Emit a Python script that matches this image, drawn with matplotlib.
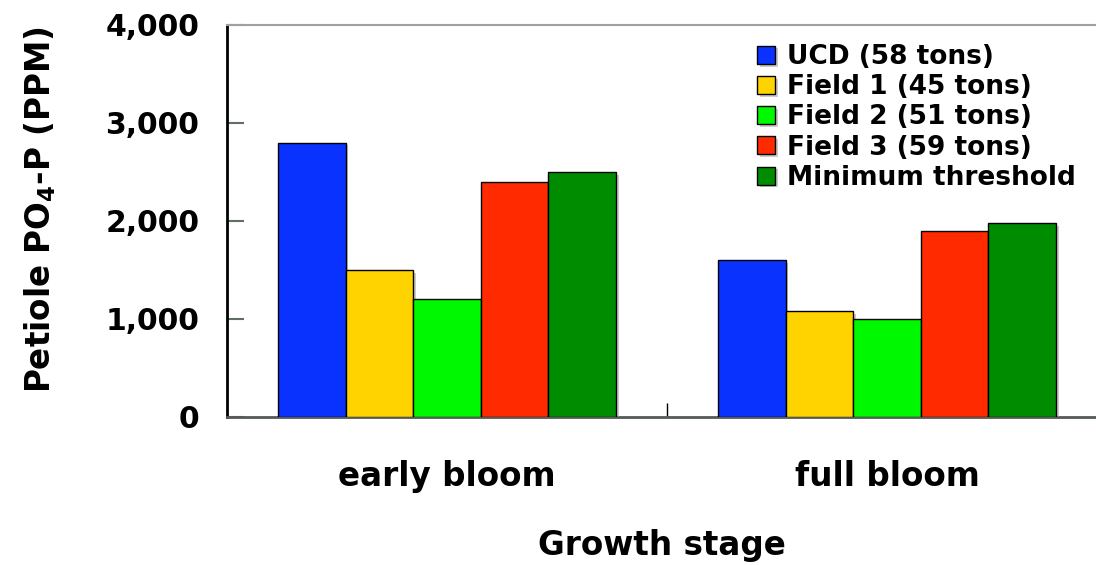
import numpy as np
import matplotlib.pyplot as plt
import matplotlib.patheffects as pe

plt.rcParams['font.family'] = 'DejaVu Sans'
plt.rcParams['font.weight'] = 'bold'
plt.rcParams['mathtext.fontset'] = 'dejavusans'

# Petiole phosphate by growth stage
stages = ['early bloom', 'full bloom']
series = ['UCD (58 tons)', 'Field 1 (45 tons)', 'Field 2 (51 tons)',
          'Field 3 (59 tons)', 'Minimum threshold']
ucd = [2800, 1600]
field1 = [1500, 1080]
field2 = [1200, 1000]
field3 = [2400, 1900]
threshold = [2500, 1980]
yticks = [0, 1000, 2000, 3000, 4000]
ytick_labels = ['0', '1,000', '2,000', '3,000', '4,000']

colors = ['#0a32ff', '#ffd300', '#00f800', '#ff2a00', '#008c00']

fig = plt.figure(figsize=(10.96, 5.65), dpi=100)
ax = fig.add_axes([227 / 1096, 1 - 417 / 565, 869 / 1096, 392 / 565])

x = np.arange(len(stages))
w = 0.1536
shadow = [pe.SimplePatchShadow(offset=(2, -2), shadow_rgbFace='#999999', alpha=0.5), pe.Normal()]
for i, (vals, name) in enumerate(zip([ucd, field1, field2, field3, threshold], series)):
    bars = ax.bar(x + (i - 2) * w, vals, w, color=colors[i], edgecolor='black',
                  linewidth=1.0, label=name, zorder=3)
    for b in bars:
        b.set_path_effects(shadow)

ax.set_xlim(-0.5, 1.475)
ax.set_ylim(0, 4000)
ax.set_yticks(yticks)
ax.set_yticklabels(ytick_labels)
ax.set_xticks(x)
ax.set_xticklabels(stages)
ax.set_xticks([0.5], minor=True)

ax.tick_params(axis='y', direction='in', length=12, width=1.5, color='#607060',
               labelsize=21.5, pad=20)
ax.tick_params(axis='x', which='major', length=0, labelsize=23.5, pad=31)
ax.tick_params(axis='x', which='minor', direction='in', length=10, width=1, color='black')

for lab in ax.get_xticklabels() + ax.get_yticklabels():
    lab.set_fontweight('bold')

ax.spines['right'].set_visible(False)
ax.spines['top'].set_color('#a0a0a0')
ax.spines['top'].set_linewidth(1.5)
ax.spines['left'].set_color('black')
ax.spines['left'].set_linewidth(2)
ax.spines['bottom'].set_color('#555a55')
ax.spines['bottom'].set_linewidth(2)

ax.set_xlabel('Growth stage', fontsize=23.5, fontweight='bold', labelpad=26)
ax.set_ylabel('Petiole PO$_\\mathbf{4}$-P (PPM)', fontsize=23.5, fontweight='bold', va='center')
ax.yaxis.set_label_coords(-0.215, 0.53)

leg = ax.legend(loc='upper left', bbox_to_anchor=(757 / 1096, 1 - 44 / 565),
                bbox_transform=fig.transFigure, frameon=False, fontsize=19,
                handlelength=0.68, handleheight=0.68, handletextpad=0.45,
                labelspacing=0.16, borderpad=0, borderaxespad=0)
for t in leg.get_texts():
    t.set_fontweight('bold')

fig.savefig('out.png', dpi=100)
